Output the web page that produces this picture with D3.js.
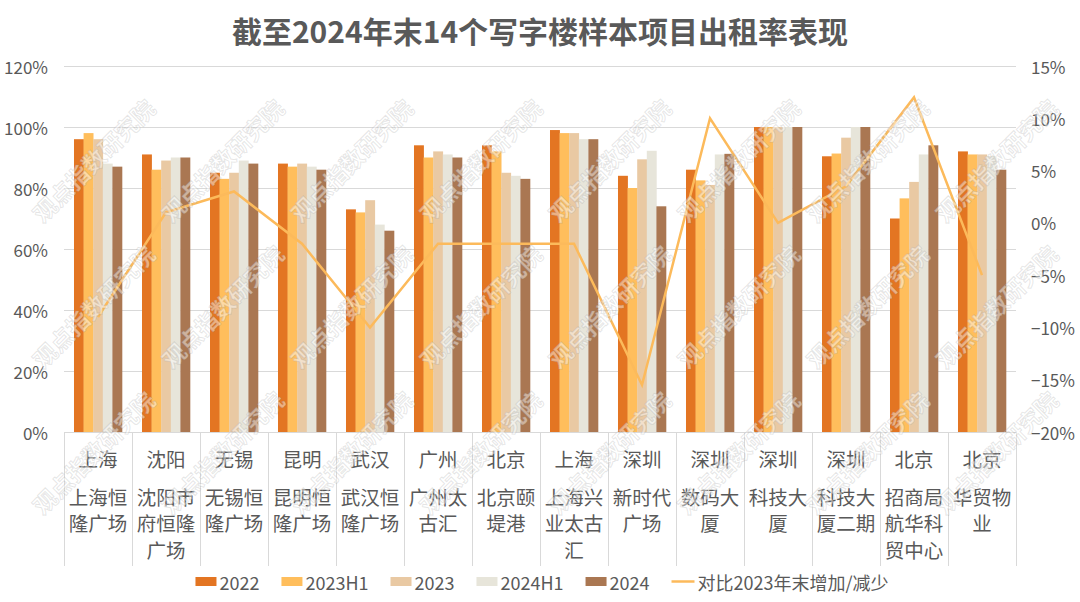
<!DOCTYPE html>
<html>
<head>
<meta charset="utf-8">
<script src="https://cdn.jsdelivr.net/npm/d3@7"></script>
<style>
body{margin:0;background:#fff;}
svg{display:block;font-family:"Noto Sans CJK SC","Noto Sans",sans-serif;}
</style>
</head>
<body>
<svg id="chart" width="1080" height="602"></svg>
<script>
// data -------------------------
var cities=['上海','沈阳','无锡','昆明','武汉','广州','北京','上海','深圳','深圳','深圳','深圳','北京','北京'];
var projects=['上海恒隆广场','沈阳市府恒隆广场','无锡恒隆广场','昆明恒隆广场','武汉恒隆广场','广州太古汇','北京颐堤港',
  '上海兴业太古汇','新时代广场','数码大厦','科技大厦','科技大厦二期','招商局航华科贸中心','华贸物业'];
var seriesNames=['2022','2023H1','2023','2024H1','2024'];
var rate2022  =[96,91,85,88,73,94,94,99,84,86,100,90.4,70,92];
var rate2023H1=[98,86,83,87,72,90,92,98,80,82.5,100,91.3,76.6,91];
var rate2023  =[96,89,85,88,76,92,85,98,89.4,81,100,96.5,82,91];
var rate2024H1=[88,90,89,87,68,91,84,96,92.2,91,100,100,91,90.5];
var rate2024  =[87,90,88,86,66,90,83,96,74,91.2,100,100,94,86];
var change    =[-9,1,3,-2,-10,-2,-2,-2,-15.5,10,0,3.5,12,-5];
var lineName='对比2023年末增加/减少';
var leftTicks=[0,20,40,60,80,100,120];
var rightTicks=[-20,-15,-10,-5,0,5,10,15];
var titleText='截至2024年末14个写字楼样本项目出租率表现';
var watermark='观点指数研究院';

// styles -------------------------
var colors=['#E37522','#FFBE5C','#E9C9A3','#E7E5DA','#AA7752'];
var lineColor='#FCBA5B';
var textColor='#595959';
var gridColor='#D9D9D9';

var rates=[rate2022,rate2023H1,rate2023,rate2024H1,rate2024];
var svg=d3.select('#chart');
var plotL=64,plotR=1016,plotT=66,plotB=432;

// scales
var x0=d3.scaleBand().domain(d3.range(projects.length)).range([plotL,plotR]);
var bw=x0.bandwidth();
var x1=d3.scaleBand().domain(seriesNames).range([bw*0.147,bw*0.853]);
var yL=d3.scaleLinear().domain([0,120]).range([plotB,plotT]);
var yR=d3.scaleLinear().domain([-20,15]).range([plotB,plotT]);

// title
svg.append('text')
  .attr('x',540).attr('y',30)
  .attr('text-anchor','middle').attr('dominant-baseline','central')
  .attr('font-size',30).attr('font-weight','bold').attr('fill',textColor)
  .text(titleText);

// gridlines
svg.append('g').selectAll('line').data(leftTicks).join('line')
  .attr('x1',plotL).attr('x2',plotR)
  .attr('y1',d=>Math.round(yL(d))+0.5).attr('y2',d=>Math.round(yL(d))+0.5)
  .attr('stroke',gridColor).attr('stroke-width',1);

// category separators
svg.append('g').selectAll('line').data(d3.range(projects.length+1)).join('line')
  .attr('x1',d=>Math.round(plotL+d*bw)+0.5).attr('x2',d=>Math.round(plotL+d*bw)+0.5)
  .attr('y1',plotB).attr('y2',566)
  .attr('stroke',gridColor).attr('stroke-width',1);

// left axis labels
svg.append('g').selectAll('text').data(leftTicks).join('text')
  .attr('x',48).attr('y',d=>yL(d))
  .attr('text-anchor','end').attr('dominant-baseline','central')
  .attr('font-size',17).attr('fill',textColor)
  .text(d=>d+'%');

// right axis labels
var fmt=d3.format('d');
svg.append('g').selectAll('text').data(rightTicks).join('text')
  .attr('x',1031).attr('y',d=>yR(d))
  .attr('dominant-baseline','central')
  .attr('font-size',17).attr('fill',textColor)
  .text(d=>fmt(d)+'%');

// bars
var groups=svg.append('g').selectAll('g').data(projects).join('g')
  .attr('transform',(d,i)=>`translate(${x0(i)},0)`);
groups.selectAll('rect')
  .data((d,i)=>seriesNames.map((s,k)=>({s:s,k:k,v:rates[k][i]})))
  .join('rect')
  .attr('x',d=>x1(d.s)).attr('width',x1.bandwidth()+0.3)
  .attr('y',d=>yL(d.v)).attr('height',d=>yL(0)-yL(d.v))
  .attr('fill',d=>colors[d.k]);

// change line
var line=d3.line().x((d,i)=>x0(i)+bw/2).y(d=>yR(d));
svg.append('path').datum(change)
  .attr('d',line).attr('fill','none')
  .attr('stroke',lineColor).attr('stroke-width',2.5).attr('stroke-linejoin','miter');

// category labels (two levels)
var cat=svg.append('g').attr('font-size',19.5).attr('fill',textColor).attr('text-anchor','middle');
cities.forEach(function(c,i){
  var cx=x0(i)+bw/2;
  cat.append('text').attr('x',cx).attr('y',458).attr('dominant-baseline','central').text(c);
  var name=projects[i];
  for(var k=0;k*3<name.length;k++){
    cat.append('text').attr('x',cx).attr('y',496+k*26.5)
      .attr('dominant-baseline','central').text(name.slice(k*3,k*3+3));
  }
});

// legend
var legend=svg.append('g').attr('font-size',18).attr('fill',textColor);
var lx=0;
seriesNames.forEach(function(s,k){
  legend.append('rect').attr('x',lx).attr('y',577).attr('width',21).attr('height',9).attr('fill',colors[k]);
  var t=legend.append('text').attr('x',lx+24).attr('y',582).attr('dominant-baseline','central').text(s);
  lx+=24+t.node().getComputedTextLength()+22;
});
legend.append('line').attr('x1',lx).attr('x2',lx+23).attr('y1',581.5).attr('y2',581.5)
  .attr('stroke',lineColor).attr('stroke-width',2.5);
var lt=legend.append('text').attr('x',lx+26).attr('y',582).attr('dominant-baseline','central').text(lineName);
lx+=26+lt.node().getComputedTextLength();
legend.attr('transform',`translate(${542-lx/2},0)`);

// watermark
var wm=svg.append('g').attr('pointer-events','none');
var wmCols=d3.range(8).map(i=>93+129*i);
var wmRows=[160,306,452];
wmRows.forEach(function(wy){
  wmCols.forEach(function(wx){
    wm.append('text')
      .attr('transform',`translate(${wx},${wy}) rotate(-45)`)
      .attr('text-anchor','middle').attr('dominant-baseline','central')
      .attr('font-size',23).attr('font-weight','bold')
      .attr('fill','rgba(255,255,255,0.45)')
      .attr('stroke','rgba(140,140,140,0.22)').attr('stroke-width',1)
      .text(watermark);
  });
});
</script>
</body>
</html>
